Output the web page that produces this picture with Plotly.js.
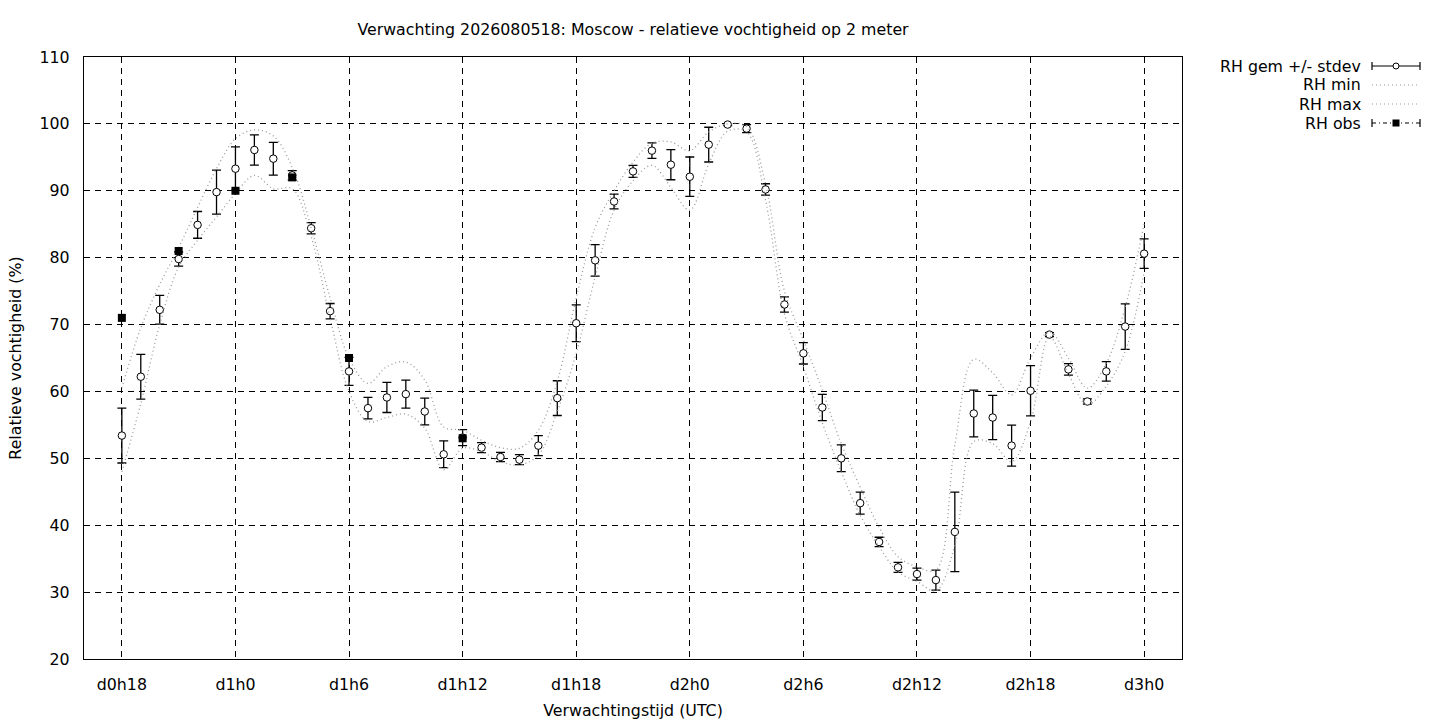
<!DOCTYPE html>
<html>
<head>
<meta charset="utf-8">
<script src="https://cdn.plot.ly/plotly-3.0.1.min.js"></script>
<style>
  html, body { margin: 0; padding: 0; background: #fff; }
  #chart { width: 1440px; height: 720px; }
</style>
</head>
<body>
<div id="chart"></div>
<script>
// uren vanaf d0h0
let hours = []
for (let h = 18; h <= 72; h++) hours.push(h)

let tickVals = [18, 24, 30, 36, 42, 48, 54, 60, 66, 72]
let tickText = ['d0h18', 'd1h0', 'd1h6', 'd1h12', 'd1h18', 'd2h0', 'd2h6', 'd2h12', 'd2h18', 'd3h0']

let rhMean = [
    53.4, 62.2, 72.2, 79.8, 84.9, 89.8, 93.3, 96.1, 94.8, 92.3,
    84.4, 72.0, 63.0, 57.5, 59.1, 59.6, 57.0, 50.6, 53.1, 51.6,
    50.2, 49.8, 51.9, 59.0, 70.2, 79.6, 88.4, 92.9, 96.0, 93.9,
    92.1, 96.9, 99.9, 99.3, 90.2, 73.0, 65.7, 57.6, 50.0, 43.3,
    37.5, 33.7, 32.7, 31.8, 39.0, 56.7, 56.1, 51.9, 60.1, 68.5,
    63.3, 58.5, 63.0, 69.7, 80.6
]

let rhStdev = [
    4.1, 3.35, 2.15, 1.05, 2.0, 3.3, 3.25, 2.25, 2.45, 0.7,
    0.85, 1.15, 2.1, 1.6, 2.25, 2.1, 2.0, 2.0, 1.2, 0.75,
    0.7, 0.75, 1.5, 2.6, 2.75, 2.35, 1.1, 0.9, 1.15, 2.25,
    2.95, 2.6, 0.15, 0.6, 0.85, 1.15, 1.6, 1.95, 2.0, 1.65,
    0.7, 0.75, 0.9, 1.5, 5.95, 3.5, 3.3, 3.05, 3.75, 0.3,
    0.85, 0.4, 1.45, 3.4, 2.2
]

let rhMin = [
    48.0, 58.2, 70.0, 78.6, 82.6, 86.1, 89.6, 92.3, 90.3, 90.3,
    83.1, 71.0, 60.0, 55.5, 56.1, 56.6, 54.5, 48.3, 51.5, 51.0,
    49.5, 49.0, 50.5, 57.0, 65.7, 77.1, 87.1, 91.5, 93.8, 90.5,
    87.1, 94.0, 98.9, 98.8, 88.6, 71.6, 63.7, 55.3, 48.0, 41.5,
    36.8, 33.0, 31.6, 30.2, 37.0, 52.5, 52.2, 49.5, 55.5, 68.2,
    62.6, 58.0, 60.8, 66.0, 77.8
]

let rhMax = [
    60.5, 69.5, 76.0, 81.5, 87.5, 93.3, 97.8, 99.1, 98.2, 93.5,
    84.5, 74.0, 65.0, 61.2, 63.7, 64.4, 61.7, 54.7, 54.2, 52.7,
    51.6, 51.5, 54.2, 61.5, 74.0, 84.5, 90.0, 94.3, 97.1, 97.3,
    96.0, 98.8, 100.0, 99.6, 91.0, 75.0, 67.7, 60.2, 52.2, 45.7,
    39.7, 35.3, 33.8, 33.3, 52.0, 64.8, 62.8, 59.5, 65.0, 68.9,
    65.0, 60.5, 64.2, 72.6, 85.0
]

let obsHours = [18, 21, 24, 27, 30, 36]
let rhObs = [71.0, 81.0, 90.0, 92.0, 65.0, 53.0]

let legendNames = ['RH gem +/- stdev', 'RH min', 'RH max', 'RH obs']

// plotgebied in pixels
let plotL = 84, plotR = 1182, plotT = 57, plotB = 659
let px = (x) => (x - plotL) / (plotR - plotL)
let py = (y) => (plotB - y) / (plotB - plotT)

let font = 'DejaVu Sans, sans-serif'
let fontSize = 15.8
let grey = '#9a9a9a'

let traceMean = {
    x: hours, y: rhMean, mode: 'markers', type: 'scatter', name: legendNames[0],
    marker: { symbol: 'circle', size: 7.5, color: '#fff', line: { color: '#000', width: 1 } },
    error_y: { type: 'data', array: rhStdev, visible: true, color: '#000', thickness: 1.3, width: 4.5 },
    showlegend: false
}
let traceMin = {
    x: hours, y: rhMin, mode: 'lines', type: 'scatter', name: legendNames[1],
    line: { color: grey, width: 1.3, dash: '1px,3px', shape: 'spline', smoothing: 1 },
    showlegend: false
}
let traceMax = {
    x: hours, y: rhMax, mode: 'lines', type: 'scatter', name: legendNames[2],
    line: { color: grey, width: 1.3, dash: '1px,3px', shape: 'spline', smoothing: 1 },
    showlegend: false
}
let traceObs = {
    x: obsHours, y: rhObs, mode: 'markers', type: 'scatter', name: legendNames[3],
    marker: { symbol: 'square', size: 8, color: '#000' },
    showlegend: false
}

// legenda in gnuplot-stijl: tekst rechts uitgelijnd, voorbeeld ernaast
let shapes = []
let annotations = []
let rowsY = [66, 85, 104, 123]
let sampleL = 1372, sampleR = 1420, sampleM = 1396

for (let i = 0; i < legendNames.length; i++) {
    annotations.push({
        xref: 'paper', yref: 'paper', x: px(1363), y: py(rowsY[i]),
        xanchor: 'right', yanchor: 'middle', showarrow: false,
        text: legendNames[i], font: { family: font, size: fontSize, color: '#000' }
    })
}

let hline = (y, dash, color) => ({
    type: 'line', xref: 'paper', yref: 'paper',
    x0: px(sampleL), x1: px(sampleR), y0: py(y), y1: py(y),
    line: { color: color, width: 1.2, dash: dash }
})
let cap = (x, y) => ({
    type: 'line', xref: 'paper', yref: 'paper',
    x0: px(x), x1: px(x), y0: py(y - 4), y1: py(y + 4),
    line: { color: '#000', width: 1.2 }
})

shapes.push(hline(rowsY[0], 'solid', '#000'), cap(sampleL, rowsY[0]), cap(sampleR, rowsY[0]))
shapes.push({
    type: 'circle', xref: 'paper', yref: 'paper',
    x0: px(sampleM - 3), x1: px(sampleM + 3), y0: py(rowsY[0] + 3), y1: py(rowsY[0] - 3),
    fillcolor: '#fff', line: { color: '#000', width: 1 }
})
shapes.push(hline(rowsY[1], '1px,3px', grey))
shapes.push(hline(rowsY[2], '1px,3px', grey))
shapes.push(hline(rowsY[3], '4px,3px,1px,3px', '#000'), cap(sampleL, rowsY[3]), cap(sampleR, rowsY[3]))
shapes.push({
    type: 'rect', xref: 'paper', yref: 'paper',
    x0: px(sampleM - 3.5), x1: px(sampleM + 3.5), y0: py(rowsY[3] + 3.5), y1: py(rowsY[3] - 3.5),
    fillcolor: '#000', line: { color: '#000', width: 0 }
})

let layout = {
    width: 1440,
    height: 720,
    margin: { l: plotL, r: 1440 - plotR, t: plotT, b: 720 - plotB, pad: 0 },
    paper_bgcolor: '#fff',
    plot_bgcolor: '#fff',
    font: { family: font, size: fontSize, color: '#000' },
    title: {
        text: 'Verwachting 2026080518: Moscow - relatieve vochtigheid op 2 meter',
        font: { family: font, size: fontSize, color: '#000' },
        xref: 'paper', x: 0.5, xanchor: 'center',
        yref: 'container', y: 1 - 29 / 720, yanchor: 'middle'
    },
    xaxis: {
        range: [16, 74],
        tickvals: tickVals,
        ticktext: tickText,
        ticks: '',
        ticklabelstandoff: 11,
        showgrid: true,
        gridcolor: '#000',
        gridwidth: 1,
        griddash: '6px,5px',
        zeroline: false,
        showline: true,
        linecolor: '#000',
        linewidth: 1.3,
        mirror: true,
        tickfont: { family: font, size: fontSize },
        title: { text: 'Verwachtingstijd (UTC)', standoff: 13, font: { family: font, size: fontSize } }
    },
    yaxis: {
        range: [20, 110],
        tickvals: [20, 30, 40, 50, 60, 70, 80, 90, 100, 110],
        ticks: '',
        ticklabelstandoff: 10,
        showgrid: true,
        gridcolor: '#000',
        gridwidth: 1,
        griddash: '6px,5px',
        zeroline: false,
        showline: true,
        linecolor: '#000',
        linewidth: 1.3,
        mirror: true,
        tickfont: { family: font, size: fontSize },
        title: { text: 'Relatieve vochtigheid (%)', standoff: 14, font: { family: font, size: fontSize } }
    },
    showlegend: false,
    shapes: shapes,
    annotations: annotations
}

Plotly.newPlot('chart', [traceMean, traceMin, traceMax, traceObs], layout, { displayModeBar: false, staticPlot: true })
</script>
</body>
</html>
